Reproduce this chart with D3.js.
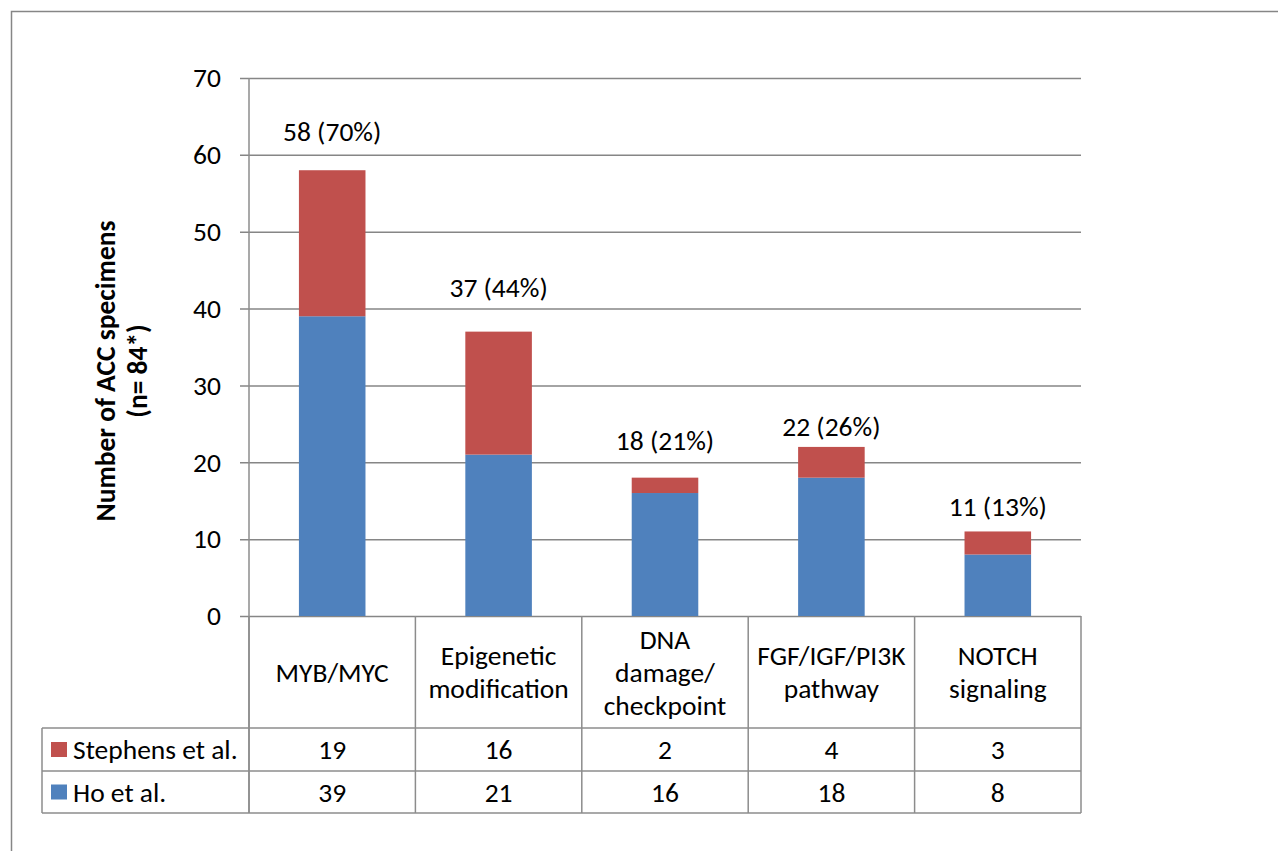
<!DOCTYPE html>
<html><head><meta charset="utf-8">
<script src="https://cdn.jsdelivr.net/npm/d3@7"></script>
<style>body{margin:0;background:#fff}svg{display:block}</style>
</head><body>
<svg id="chart" width="1278" height="851"></svg>
<script>
// ---------- data ----------
const categories = ["MYB/MYC", "Epigenetic modification", "DNA damage/ checkpoint", "FGF/IGF/PI3K pathway", "NOTCH signaling"];
const categoryLines = [["MYB/MYC"], ["Epigenetic", "modification"], ["DNA", "damage/", "checkpoint"], ["FGF/IGF/PI3K", "pathway"], ["NOTCH", "signaling"]];
const hoValues = [39, 21, 16, 18, 8];
const stephensValues = [19, 16, 2, 4, 3];
const totalLabels = ["58 (70%)", "37 (44%)", "18 (21%)", "22 (26%)", "11 (13%)"];
const seriesNames = ["Stephens et al.", "Ho et al."];
const yTicks = [0, 10, 20, 30, 40, 50, 60, 70];
const yTitle = ["Number of ACC specimens", "(n= 84*)"];

// ---------- layout / style ----------
const FONT = "Carlito, Calibri, Lato, sans-serif";
const FS = 27.5;
const BLUE = "#4F81BD", RED = "#C0504D", GRID = "#868686", LINE = "#8C8C8C";
const plot = {left: 249, right: 1081, top: 78, bottom: 616};
const tableRows = {header: 728, r1: 771, r2: 813, left: 42};
const labelGap = [29, 35, 28, 11, 15];

const svg = d3.select("#chart");
const table = categories.map((c, i) => ({cat: c, ho: hoValues[i], stephens: stephensValues[i]}));
const stack = d3.stack().keys(["ho", "stephens"])(table);

const x = d3.scaleBand().domain(categories).range([plot.left, plot.right]).paddingInner(0.6).paddingOuter(0.3);
const y = d3.scaleLinear().domain([0, 70]).range([plot.bottom, plot.top]);

// outer frame
svg.append("path").attr("d", "M11.5,851 V11.5 H1278").attr("fill", "none").attr("stroke", GRID).attr("stroke-width", 1.5);

// gridlines + ticks
const yAxis = d3.axisLeft(y).tickValues(yTicks).tickSize(-(plot.right - plot.left)).tickPadding(28).tickFormat(d3.format("d"));
const gy = svg.append("g").attr("transform", `translate(${plot.left},0)`).call(yAxis);
gy.select(".domain").remove();
gy.selectAll(".tick line").attr("stroke", GRID).attr("stroke-width", 1.5).attr("x1", -9);
gy.selectAll(".tick text").attr("font-family", FONT).attr("font-size", FS).attr("fill", "#000");
svg.append("line").attr("x1", plot.left).attr("x2", plot.left).attr("y1", plot.top).attr("y2", tableRows.r2)
  .attr("stroke", LINE).attr("stroke-width", 1.5);

// bars
const colors = {ho: BLUE, stephens: RED};
svg.append("g").selectAll("g").data(stack).join("g").attr("fill", d => colors[d.key])
  .selectAll("rect").data(d => d).join("rect")
  .attr("x", d => x(d.data.cat)).attr("width", x.bandwidth())
  .attr("y", d => y(d[1])).attr("height", d => y(d[0]) - y(d[1]));

// total labels
svg.append("g").selectAll("text").data(table).join("text")
  .attr("x", d => x(d.cat) + x.bandwidth() / 2)
  .attr("y", (d, i) => y(d.ho + d.stephens) - labelGap[i])
  .attr("text-anchor", "middle").attr("font-family", FONT).attr("font-size", FS)
  .text((d, i) => totalLabels[i]);

// y title
yTitle.forEach((t, i) => {
  svg.append("text").attr("transform", `translate(${115 + i * 32},371) rotate(-90)`)
    .attr("text-anchor", "middle").attr("font-family", FONT).attr("font-size", FS).attr("font-weight", "bold").text(t);
});

// data table
const g = svg.append("g").attr("stroke", LINE).attr("stroke-width", 1.5);
const bounds = categories.map(c => x(c) - x.step() * x.paddingInner() / 2);
bounds.push(plot.right);
bounds.forEach(b => g.append("line").attr("x1", b).attr("x2", b).attr("y1", plot.bottom).attr("y2", tableRows.r2));
g.append("line").attr("x1", tableRows.left).attr("x2", tableRows.left).attr("y1", tableRows.header).attr("y2", tableRows.r2);
[tableRows.header, tableRows.r1, tableRows.r2].forEach(r => g.append("line").attr("x1", tableRows.left).attr("x2", plot.right).attr("y1", r).attr("y2", r));

// header labels
const lh = 33;
categoryLines.forEach((lines, i) => {
  const cx = x(categories[i]) + x.bandwidth() / 2;
  const cy = (plot.bottom + tableRows.header) / 2;
  const t = svg.append("text").attr("text-anchor", "middle").attr("font-family", FONT).attr("font-size", FS);
  lines.forEach((l, j) => t.append("tspan").attr("x", cx).attr("y", cy + (j - (lines.length - 1) / 2) * lh).attr("dy", "0.35em").text(l));
});

// row values + legend
const rowsData = [{name: seriesNames[0], vals: stephensValues, color: RED, top: tableRows.header, bot: tableRows.r1},
                  {name: seriesNames[1], vals: hoValues, color: BLUE, top: tableRows.r1, bot: tableRows.r2}];
rowsData.forEach(r => {
  const cy = (r.top + r.bot) / 2;
  svg.append("rect").attr("x", 51).attr("y", cy - 7.5).attr("width", 16).attr("height", 15).attr("fill", r.color);
  svg.append("text").attr("x", 73).attr("y", cy).attr("dy", "0.35em").attr("font-family", FONT).attr("font-size", FS).text(r.name);
  r.vals.forEach((v, i) => {
    svg.append("text").attr("x", x(categories[i]) + x.bandwidth() / 2).attr("y", cy).attr("dy", "0.35em")
      .attr("text-anchor", "middle").attr("font-family", FONT).attr("font-size", FS).text(v);
  });
});
</script>
</body></html>
